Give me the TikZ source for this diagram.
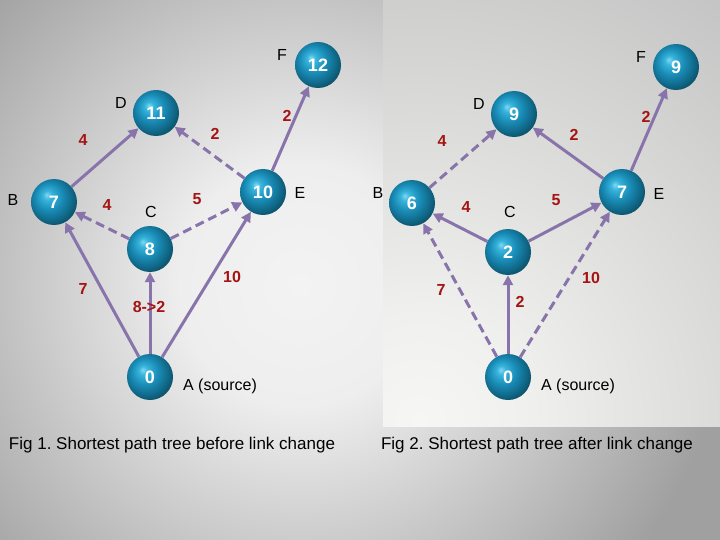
\documentclass[tikz,border=0pt]{standalone}
\usepackage{fontspec}
\setmainfont{Liberation Sans}
\usetikzlibrary{arrows.meta}
\frenchspacing
\definecolor{edgecol}{RGB}{136,116,170}
\definecolor{lblred}{RGB}{165,20,20}
\definecolor{bgin}{RGB}{243,243,243}
\definecolor{bgmid}{RGB}{238,238,238}
\definecolor{bgout}{RGB}{160,160,160}
\definecolor{pnin}{RGB}{246,246,244}
\definecolor{pnmid}{RGB}{240,240,238}
\definecolor{pnout}{RGB}{196,196,196}
\definecolor{sphA}{RGB}{130,215,240}
\definecolor{sphB}{RGB}{55,180,220}
\definecolor{sphC}{RGB}{26,142,185}
\definecolor{sphD}{RGB}{16,104,136}
\definecolor{sphE}{RGB}{10,70,88}
\pgfdeclareradialshading{bgshade}{\pgfpointorigin}{color(0bp)=(bgin); color(7bp)=(bgmid); color(25bp)=(bgout); color(50bp)=(bgout)}
\pgfdeclareradialshading{pnshade}{\pgfpointorigin}{color(0bp)=(pnin); color(5bp)=(pnmid); color(25bp)=(pnout); color(50bp)=(pnout)}
\pgfdeclareradialshading{sphere}{\pgfpoint{-8bp}{8bp}}{color(0bp)=(sphA); color(5bp)=(sphB); color(14bp)=(sphC); color(24bp)=(sphD); color(32bp)=(sphE); color(50bp)=(sphE)}
\begin{document}
\begin{tikzpicture}[x=1pt,y=-1pt,
  ballnode/.style={circle, minimum size=46pt, inner sep=0pt, shading=sphere, text=white, font=\bfseries\fontsize{18}{18}\selectfont},
  lbl/.style={font=\fontsize{16}{16}\selectfont, text=black, inner sep=0pt},
  wlbl/.style={font=\bfseries\fontsize{16}{16}\selectfont, text=lblred, inner sep=0pt},
  caption/.style={font=\fontsize{17}{17}\selectfont, text=black, inner sep=0pt},
  tree/.style={draw=edgecol, line width=3pt, -{Triangle[length=10pt,width=10pt]}},
  nontree/.style={tree, dash pattern=on 9pt off 5pt}]
\useasboundingbox (0,0) rectangle (720,540);
% background
\fill[bgout] (0,0) rectangle (720,540);
\begin{scope}
  \clip (0,0) rectangle (720,540);
  \shade[shading=bgshade] (300,285) circle (430);
\end{scope}
\begin{scope}
  \clip (383,0) rectangle (720,426);
  \fill[pnout] (383,0) rectangle (720,426);
  \shade[shading=pnshade] (420,420) circle (520);
\end{scope}

% ---------- Fig 1 ----------
\node[ballnode] (F1) at (318,65) {12};
\node[ballnode] (D1) at (156,113) {11};
\node[ballnode] (B1) at (54,202) {7};
\node[ballnode] (E1) at (263,192) {10};
\node[ballnode] (C1) at (150,249) {8};
\node[ballnode] (A1) at (150,377) {0};

\node[lbl] (lF1) at (282,55) {F};
\node[lbl] (lD1) at (121,103) {D};
\node[lbl] (lB1) at (13,200) {B};
\node[lbl] (lE1) at (300,193) {E};
\node[lbl] (lC1) at (151,212) {C};
\node[lbl] (lA1) at (220,386) {A (source)};

\draw[tree] (B1) -- (D1);
\draw[nontree] (E1) -- (D1);
\draw[tree] (E1) -- (F1);
\draw[nontree] (C1) -- (B1);
\draw[nontree] (C1) -- (E1);
\draw[tree] (A1) -- (B1);
\draw[tree] (A1) -- (C1);
\draw[tree] (A1) -- (E1);

\node[wlbl] (w1a) at (83,140) {4};
\node[wlbl] (w1b) at (215,134) {2};
\node[wlbl] (w1c) at (287,116) {2};
\node[wlbl] (w1d) at (107,205) {4};
\node[wlbl] (w1e) at (197,199) {5};
\node[wlbl] (w1f) at (83,289) {7};
\node[wlbl] (w1g) at (149,307) {8->2};
\node[wlbl] (w1h) at (232,277) {10};

% ---------- Fig 2 ----------
\node[ballnode] (F2) at (676,67) {9};
\node[ballnode] (D2) at (514,114) {9};
\node[ballnode] (B2) at (412,203) {6};
\node[ballnode] (E2) at (622,192) {7};
\node[ballnode] (C2) at (508,252) {2};
\node[ballnode] (A2) at (508,377) {0};

\node[lbl] (lF2) at (641,57) {F};
\node[lbl] (lD2) at (479,104) {D};
\node[lbl] (lB2) at (378,193) {B};
\node[lbl] (lE2) at (659,194) {E};
\node[lbl] (lC2) at (510,212) {C};
\node[lbl] (lA2) at (578,386) {A (source)};

\draw[nontree] (B2) -- (D2);
\draw[tree] (E2) -- (D2);
\draw[tree] (E2) -- (F2);
\draw[tree] (C2) -- (B2);
\draw[tree] (C2) -- (E2);
\draw[nontree] (A2) -- (B2);
\draw[tree] (A2) -- (C2);
\draw[nontree] (A2) -- (E2);

\node[wlbl] (w2a) at (442,141) {4};
\node[wlbl] (w2b) at (574,135) {2};
\node[wlbl] (w2c) at (646,117) {2};
\node[wlbl] (w2d) at (466,207) {4};
\node[wlbl] (w2e) at (556,200) {5};
\node[wlbl] (w2f) at (441,290) {7};
\node[wlbl] (w2g) at (520,302) {2};
\node[wlbl] (w2h) at (591,278) {10};

% captions
\node[caption] (cap1) at (172,445) {Fig 1. Shortest path tree before link change};
\node[caption] (cap2) at (537,445) {Fig 2. Shortest path tree after link change};
\end{tikzpicture}
\end{document}
